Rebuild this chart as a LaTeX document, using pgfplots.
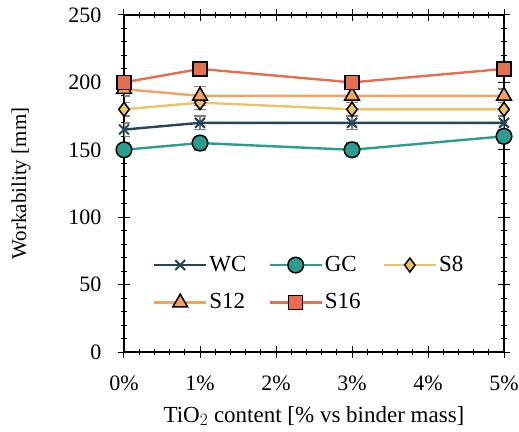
\documentclass[border=0pt]{standalone}
\usepackage{pgfplots}
\pgfplotsset{compat=1.18}
\usepackage{fontspec}
\setmainfont{Liberation Serif}
\definecolor{cWC}{HTML}{264653}
\definecolor{cGC}{HTML}{2A9D8F}
\definecolor{cS8}{HTML}{E9C46A}
\definecolor{cS12}{HTML}{F4A261}
\definecolor{cS16}{HTML}{E76F51}
\definecolor{errc}{HTML}{808080}
\begin{document}
\fontsize{22}{26}\selectfont
\begin{tikzpicture}
\begin{axis}[
  name=ax,
  scale only axis, width=380pt, height=337pt,
  xmin=0, xmax=5, ymin=0, ymax=250,
  xtick={0,1,2,3,4,5},
  xticklabels={0\%,1\%,2\%,3\%,4\%,5\%},
  ytick={0,50,100,150,200,250},
  minor x tick num=4, minor y tick num=4,
  tick align=center,
  minor tick style={/pgfplots/tick align=inside},
  major tick length=12pt, minor tick length=6pt,
  tick style={black, line width=1pt},
  axis line style={line width=1.2pt},
  /pgf/number format/assume math mode=true,
  ticklabel style={font=\fontsize{22}{26}\selectfont},
  yticklabel style={xshift=-9pt},
  xticklabel style={yshift=-10pt},
  xlabel={TiO$_2$ content [\% vs binder mass]},
  ylabel={Workability [mm]},
  xlabel style={font=\fontsize{23}{27}\selectfont, at={(axis description cs:0.5,-0.19)}, anchor=center, inner sep=0pt},
  ylabel style={font=\fontsize{21}{25}\selectfont, at={(axis description cs:-0.271,0.5)}, anchor=center, inner sep=0pt},
  legend columns=3,
  legend style={draw=none, fill=none, at={(0.068,0.298)}, anchor=north west,
    font=\fontsize{23}{27}\selectfont, row sep=15pt,
    /tikz/every even column/.append style={column sep=20pt}},
  legend cell align=left,
  legend image code/.code={\draw[#1, mark repeat=2, mark phase=2] plot coordinates {(0pt,0pt) (26pt,0pt) (52pt,0pt)};},
  every axis plot/.append style={line width=2.4pt},
  error bars/error bar style={errc, line width=1.6pt},
  error bars/error mark options={errc, line width=1.6pt, rotate=90, mark size=6pt},
]
\addplot[cWC, mark=x, mark size=7pt, mark options={line width=2pt, cWC},
  error bars/.cd, y dir=both, y explicit]
  coordinates {(0,165) +- (0,5) (1,170) +- (0,5) (3,170) +- (0,5) (5,170) +- (0,5)};
\addlegendentry{WC}
\addplot[cGC, mark=*, mark size=7.8pt, mark options={draw=black, fill=cGC, line width=1.5pt},
  error bars/.cd, y dir=both, y explicit]
  coordinates {(0,150) +- (0,5) (1,155) +- (0,5) (3,150) +- (0,5) (5,160) +- (0,5)};
\addlegendentry{GC}
\addplot[cS8, mark=diamond*, mark size=7pt, mark options={draw=black, fill=cS8, line width=1.5pt},
  error bars/.cd, y dir=both, y explicit]
  coordinates {(0,180) +- (0,5) (1,185) +- (0,5) (3,180) +- (0,5) (5,180) +- (0,5)};
\addlegendentry{S8}
\addplot[cS12, mark=triangle*, mark size=8.5pt, mark options={draw=black, fill=cS12, line width=1.5pt},
  error bars/.cd, y dir=both, y explicit]
  coordinates {(0,195) +- (0,5) (1,190) +- (0,7) (3,190) +- (0,5) (5,190) +- (0,5)};
\addlegendentry{S12}
\addplot[cS16, mark=square*, mark size=7pt, mark options={draw=black, fill=cS16, line width=1.5pt},
  error bars/.cd, y dir=both, y explicit]
  coordinates {(0,200) +- (0,5) (1,210) +- (0,5) (3,200) +- (0,5) (5,210) +- (0,5)};
\addlegendentry{S16}
\end{axis}
\pgfresetboundingbox
\path ([xshift=-124pt, yshift=-79pt]ax.south west) rectangle ([xshift=15pt, yshift=15pt]ax.north east);
\end{tikzpicture}
\end{document}
